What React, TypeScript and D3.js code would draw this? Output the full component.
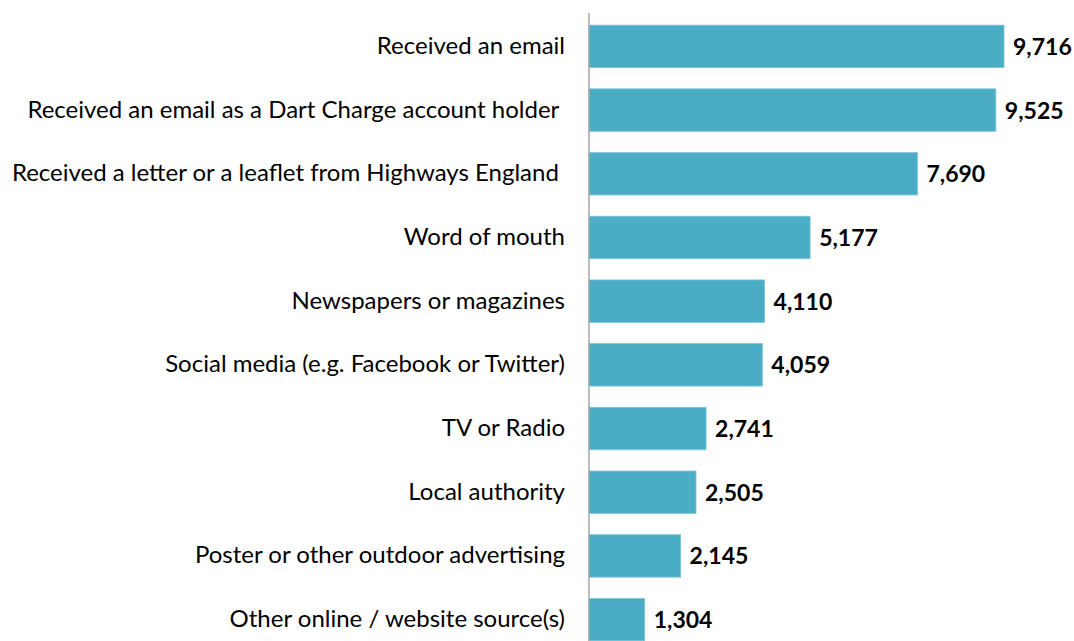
import React from "react";
import * as d3 from "d3";

const categories = [
  "Received an email",
  "Received an email as a Dart Charge account holder ",
  "Received a letter or a leaflet from Highways England ",
  "Word of mouth",
  "Newspapers or magazines",
  "Social media (e.g. Facebook or Twitter)",
  "TV or Radio",
  "Local authority",
  "Poster or other outdoor advertising",
  "Other online / website source(s)",
];
const values = [9716, 9525, 7690, 5177, 4110, 4059, 2741, 2505, 2145, 1304];

const W = 1074;
const H = 641;
const FONT = "Lato, 'Open Sans', sans-serif";

export default function App() {
  const x = d3.scaleLinear().domain([0, 9716]).range([589, 1004]);
  const y = d3
    .scaleBand<number>()
    .domain(d3.range(categories.length))
    .range([14.5, 651.5])
    .paddingInner(0.333)
    .paddingOuter(0.167);
  const fmt = d3.format(",");
  return (
    <div style={{ position: "absolute", left: 0, top: 0 }}>
      <svg width={W} height={H} style={{ display: "block", background: "#fff" }}>
        {values.map((v, i) => (
          <rect
            key={i}
            x={x(0)}
            y={y(i)!}
            width={x(v) - x(0)}
            height={y.bandwidth()}
            fill="#4BACC6"
            stroke="#7FC6D8"
            strokeWidth={0.8}
          />
        ))}
        <line x1={589} x2={589} y1={13} y2={H} stroke="#A6A6A6" strokeWidth={1.5} />
        {categories.map((c, i) => (
          <text
            key={c}
            x={565}
            y={y(i)! + y.bandwidth() / 2}
            dy="0.31em"
            textAnchor="end"
            fontFamily={FONT}
            fontSize={24}
            fill="#000"
            style={{ whiteSpace: "pre" }}
          >
            {c}
          </text>
        ))}
        {values.map((v, i) => (
          <text
            key={i}
            x={x(v) + 9}
            y={y(i)! + y.bandwidth() / 2}
            dy="0.37em"
            fontFamily={FONT}
            fontSize={23}
            fontWeight="bold"
            fill="#000"
          >
            {fmt(v)}
          </text>
        ))}
      </svg>
    </div>
  );
}
